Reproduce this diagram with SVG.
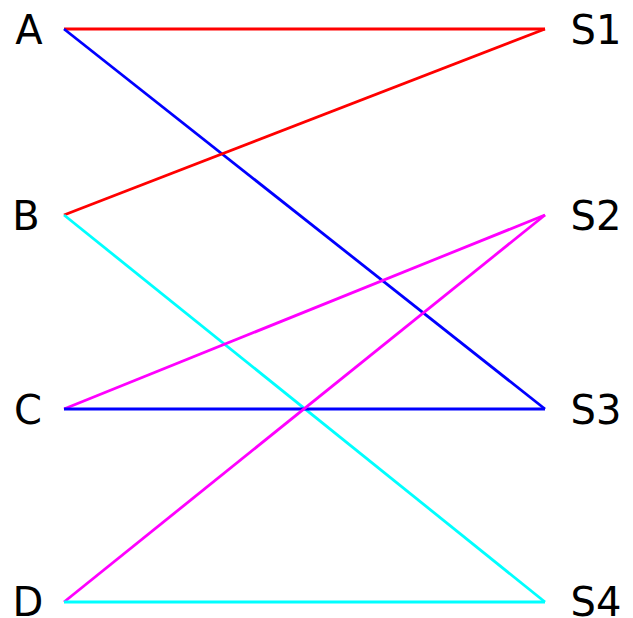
<svg xmlns="http://www.w3.org/2000/svg" width="633" height="618" viewBox="0 0 633 618">
<style>
text{font-family:"DejaVu Sans",sans-serif;font-size:40px;fill:#000;text-anchor:middle}
line{stroke-width:2.8;fill:none}
.r{stroke:#ff0000}.b{stroke:#0000ff}.c{stroke:#00ffff}.m{stroke:#ff00ff}
</style>
<rect width="633" height="618" fill="#fff"/>
<g id="connectors">
<line class="r" x1="64" y1="29" x2="545" y2="29"/>
<line class="b" x1="64" y1="29" x2="545" y2="409"/>
<line class="r" x1="64" y1="215" x2="545" y2="29"/>
<line class="c" x1="64" y1="215" x2="545" y2="602"/>
<line class="m" x1="64" y1="409" x2="545" y2="215"/>
<line class="b" x1="64" y1="409" x2="545" y2="409"/>
<line class="m" x1="64" y1="602" x2="545" y2="215"/>
<line class="c" x1="64" y1="602" x2="545" y2="602"/>
</g>
<g id="A"><text x="29" y="43.5">A</text></g>
<g id="B"><text x="26" y="229.5">B</text></g>
<g id="C"><text x="28" y="423.5">C</text></g>
<g id="D"><text x="28" y="616">D</text></g>
<g id="S1"><text x="596" y="43.5">S1</text></g>
<g id="S2"><text x="596" y="229.5">S2</text></g>
<g id="S3"><text x="596" y="423.5">S3</text></g>
<g id="S4"><text x="596" y="616">S4</text></g>
</svg>
